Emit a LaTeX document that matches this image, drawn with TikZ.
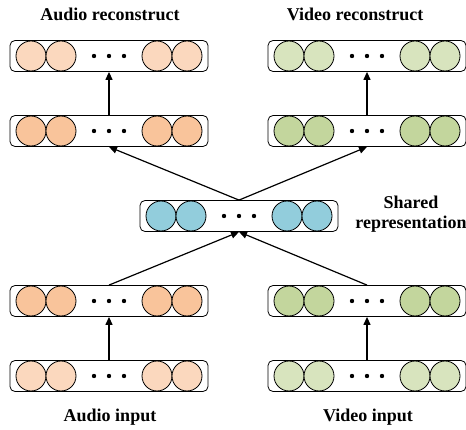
\documentclass[tikz,border=0pt]{standalone}
\usepackage{fontspec}
\setmainfont{Liberation Serif}
\usetikzlibrary{arrows.meta}
\definecolor{audiolight}{RGB}{251,216,190}
\definecolor{audiodark}{RGB}{249,196,155}
\definecolor{videolight}{RGB}{216,228,190}
\definecolor{videodark}{RGB}{195,214,157}
\definecolor{sharedblue}{RGB}{146,205,220}
\tikzset{
  layer/.style={draw, line width=0.8pt, rounded corners=5pt, minimum width=198pt, minimum height=31pt, inner sep=0pt},
  unit/.style={draw, circle, line width=0.8pt, minimum size=30pt, inner sep=0pt},
  title/.style={font=\fontsize{18}{20}\selectfont\bfseries, align=center},
  conn/.style={line width=1.2pt, -{Triangle[length=8pt,width=7pt]}}
}
% one row of units: name, x, y, colour
\newcommand{\layerrow}[4]{
  \node[layer] (#1) at (#2,#3) {};
  \foreach \dx [count=\i] in {-78,-48,48,78}
    \node[unit, fill=#4] (#1u\i) at (#2+\dx,#3) {};
  \foreach \dx in {-15,0,15}
    \fill (#2+\dx,#3) circle (2.2pt);
}
\begin{document}
\begin{tikzpicture}[x=1pt, y=-1pt]
\useasboundingbox (0,0) rectangle (466,430);
\layerrow{a1}{109}{56}{audiolight}
\layerrow{a2}{109}{131}{audiodark}
\layerrow{v1}{367}{56}{videolight}
\layerrow{v2}{367}{131}{videodark}
\layerrow{s}{239}{216}{sharedblue}
\layerrow{a4}{109}{301}{audiodark}
\layerrow{v4}{367}{301}{videodark}
\layerrow{a5}{109}{376}{audiolight}
\layerrow{v5}{367}{376}{videolight}
\node[title] (at1) at (110,14) {Audio reconstruct};
\node[title] (vt1) at (355,14) {Video reconstruct};
\node[title] (st) at (411,214) {Shared\\representation};
\node[title] (at5) at (110,417) {Audio input};
\node[title] (vt5) at (368,417) {Video input};
\draw[conn] (a2) -- (a1);
\draw[conn] (v2) -- (v1);
\draw[conn] (s.north) -- (a2.south);
\draw[conn] (s.north) -- (v2.south);
\draw[conn] (a4.north) -- (s.south);
\draw[conn] (v4.north) -- (s.south);
\draw[conn] (a5) -- (a4);
\draw[conn] (v5) -- (v4);
\end{tikzpicture}
\end{document}
